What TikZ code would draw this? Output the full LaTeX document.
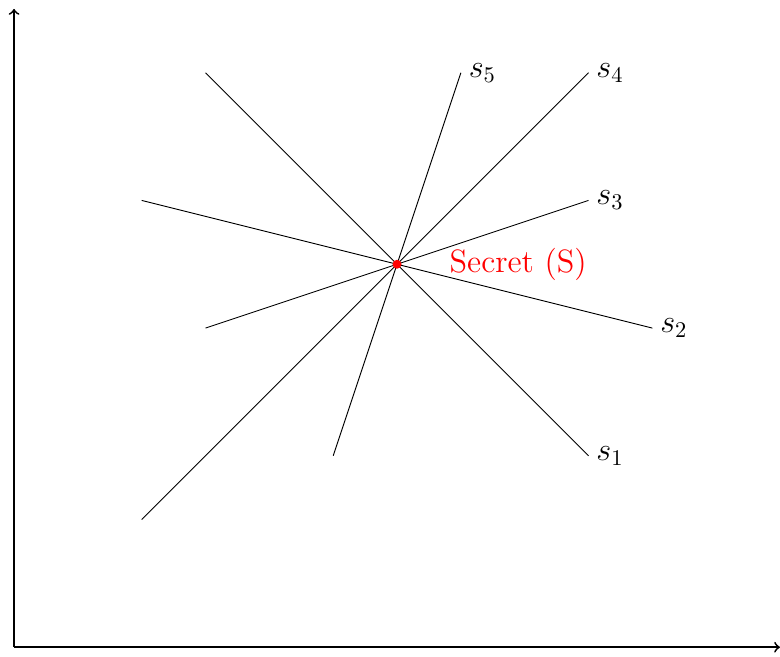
\documentclass[tikz,border=0pt]{standalone}
\usepackage{amsmath, amssymb}
\usepackage{xcolor}
\usepackage{tikz}
\usetikzlibrary{calc, positioning}

\begin{document}
\begin{tikzpicture}[font=\Large]

    \useasboundingbox (-0.22,-0.14) rectangle (12.0,10.14);

    % =================================================================
    % 1. CÁC ĐIỂM CHÍNH
    % =================================================================
    \coordinate (O) at (0,0);
    \coordinate (S) at (6,6);

    % Hai đầu của mỗi đường thẳng
    \coordinate (A1) at (3,9);  \coordinate (B1) at (9,3);
    \coordinate (A2) at (2,7);  \coordinate (B2) at (10,5);
    \coordinate (A3) at (3,5);  \coordinate (B3) at (9,7);
    \coordinate (A4) at (2,2);  \coordinate (B4) at (9,9);
    \coordinate (A5) at (5,3);  \coordinate (B5) at (7,9);

    % =================================================================
    % 2. HỆ TRỤC
    % =================================================================
    \draw[->, thick] (O) -- (12,0);
    \draw[->, thick] (O) -- (0,10);

    % =================================================================
    % 3. CÁC ĐƯỜNG THẲNG ĐI QUA S
    % =================================================================
    \draw (A1) -- (B1) node[right] {$s_1$};
    \draw (A2) -- (B2) node[right] {$s_2$};
    \draw (A3) -- (B3) node[right] {$s_3$};
    \draw (A4) -- (B4) node[right] {$s_4$};
    \draw (A5) -- (B5) node[right] {$s_5$};

    % =================================================================
    % 4. ĐIỂM BÍ MẬT
    % =================================================================
    \fill[red] (S) circle (2pt);
    \node[red, right=0.7cm of S] {Secret (S)};

\end{tikzpicture}
\end{document}
